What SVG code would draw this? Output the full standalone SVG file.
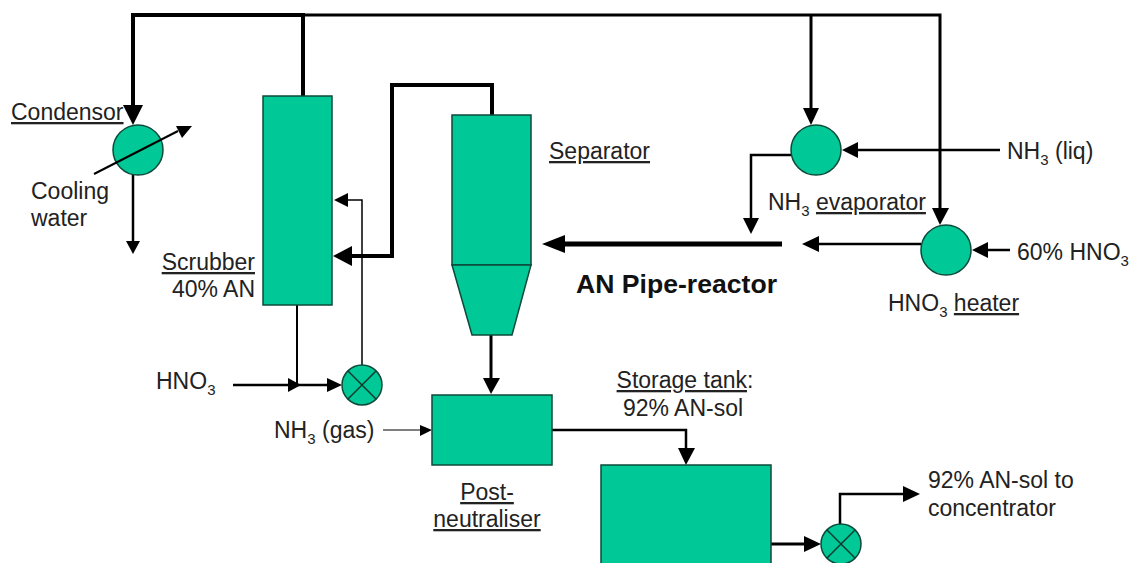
<svg xmlns="http://www.w3.org/2000/svg" width="1131" height="563" viewBox="0 0 1131 563">
<style>
.n{fill:#00c896;stroke:#0d4a3a;stroke-width:1.5}
.x{fill:none;stroke:#0d3a2e;stroke-width:1.5}
.c{fill:none;stroke:#000;stroke-linejoin:miter}
.a{fill:#000;stroke:none}
text{font-family:"Liberation Sans",Arial,sans-serif;font-size:23px;fill:#222}
.u{text-decoration:underline}
.s{font-size:15px}
.b{font-weight:bold;font-size:26.6px;fill:#111}
</style>
<rect width="1131" height="563" fill="#fff"/>
<g id="connectors">
<path class="c" stroke-width="4" d="M303 96V15H133V110"/>
<path class="c" stroke-width="3" d="M303 15H940V215"/>
<path class="c" stroke-width="3" d="M811 15V112"/>
<path class="a" d="M123 105H143L133 125Z"/>
<path class="a" d="M192 126L176 126L182 138Z"/>
<path class="c" stroke-width="2.5" d="M133 175V242"/>
<path class="a" d="M126 241H140L133 254Z"/>
<path class="c" stroke-width="4" d="M345 256H392V85H492V115"/>
<path class="a" d="M333 256L352 246V266Z"/>
<path class="c" stroke-width="1.5" d="M362 365V200H345"/>
<path class="a" d="M334 200L348 193V207Z"/>
<path class="c" stroke-width="2" d="M297 305V385"/>
<path class="c" stroke-width="2.5" d="M233 385H332"/>
<path class="a" d="M288 378L301 385L288 392Z"/>
<path class="a" d="M327 378L342 385L327 392Z"/>
<path class="c" stroke-width="3" d="M491 335V382"/>
<path class="a" d="M483 378H500L491 394Z"/>
<path class="c" stroke-width="1" d="M383 430H422"/>
<path class="a" d="M420 425L432 430L420 436Z"/>
<path class="c" stroke-width="2.5" d="M552 430H686V452"/>
<path class="a" d="M678 448H695L686 465Z"/>
<path class="c" stroke-width="3" d="M771 544H810"/>
<path class="a" d="M804 536L821 544L804 552Z"/>
<path class="c" stroke-width="2.5" d="M840 525V494H905"/>
<path class="a" d="M903 486L920 494L903 502Z"/>
<path class="a" d="M803 108H819L811 125Z"/>
<path class="c" stroke-width="2.5" d="M855 150H1000"/>
<path class="a" d="M842 150L858 142V158Z"/>
<path class="c" stroke-width="2.5" d="M791 155H751V220"/>
<path class="a" d="M743 218H759L751 234Z"/>
<path class="a" d="M932 208H949L940 225Z"/>
<path class="c" stroke-width="5" d="M782 244H555"/>
<path class="a" d="M542 244L565 235V253Z"/>
<path class="c" stroke-width="2.5" d="M921 244H815"/>
<path class="a" d="M802 244L819 236V252Z"/>
<path class="c" stroke-width="2.5" d="M1010 250H985"/>
<path class="a" d="M972 250L988 242V258Z"/>
</g>
<g id="condensor">
<circle class="n" cx="138" cy="150" r="25"/>
<path class="c" stroke-width="2" d="M94 174L178 131"/>
<text x="11" y="120" class="u">Condensor</text>
<text x="31" y="199">Cooling</text>
<text x="31" y="226">water</text>
</g>
<g id="scrubber">
<rect class="n" x="263" y="96" width="69" height="209"/>
<text x="255" y="270" text-anchor="end" class="u">Scrubber</text>
<text x="255" y="297" text-anchor="end">40% AN</text>
</g>
<g id="separator">
<rect class="n" x="452" y="115" width="79" height="150"/>
<path class="n" d="M452 265H531L512 335H472Z"/>
<text x="549" y="159" class="u">Separator</text>
</g>
<g id="evaporator">
<circle class="n" cx="816" cy="150" r="25"/>
<text x="768" y="210">NH<tspan class="s" dy="6">3</tspan><tspan dy="-6"> </tspan><tspan class="u">evaporator</tspan></text>
</g>
<g id="heater">
<circle class="n" cx="946" cy="250" r="25"/>
<text x="888" y="311">HNO<tspan class="s" dy="6">3</tspan><tspan dy="-6"> </tspan><tspan class="u">heater</tspan></text>
</g>
<g id="valve1">
<circle class="n" cx="362" cy="385" r="20"/>
<path class="x" d="M348 371L376 399M376 371L348 399"/>
</g>
<g id="post-neutraliser">
<rect class="n" x="432" y="395" width="120" height="70"/>
<text x="487" y="500" text-anchor="middle" class="u">Post-</text>
<text x="487" y="527" text-anchor="middle" class="u">neutraliser</text>
</g>
<g id="storage-tank">
<rect class="n" x="601" y="465" width="170" height="110"/>
<text x="685" y="388" text-anchor="middle"><tspan class="u">Storage tank</tspan>:</text>
<text x="683" y="416" text-anchor="middle">92% AN-sol</text>
</g>
<g id="valve2">
<circle class="n" cx="841" cy="544" r="20"/>
<path class="x" d="M827 530L855 558M855 530L827 558"/>
</g>
<g id="labels">
<text x="1007" y="159">NH<tspan class="s" dy="6">3</tspan><tspan dy="-6"> (liq)</tspan></text>
<text x="1017" y="260">60% HNO<tspan class="s" dy="6">3</tspan></text>
<text x="576" y="293" class="b">AN Pipe-reactor</text>
<text x="156" y="389">HNO<tspan class="s" dy="6">3</tspan></text>
<text x="274" y="438">NH<tspan class="s" dy="6">3</tspan><tspan dy="-6"> (gas)</tspan></text>
<text x="928" y="488">92% AN-sol to</text>
<text x="928" y="516">concentrator</text>
</g>
</svg>
